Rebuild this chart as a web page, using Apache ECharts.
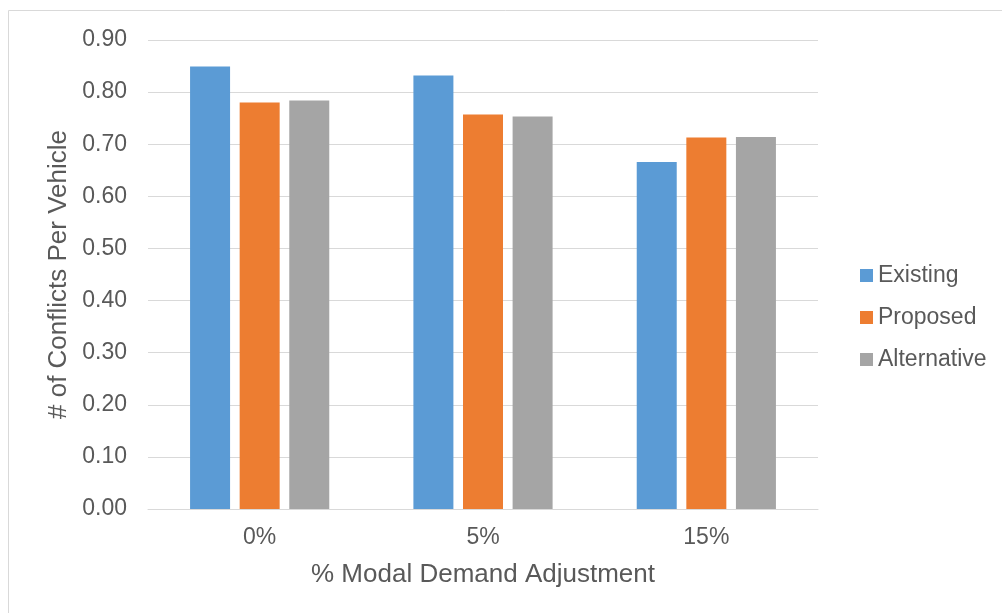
<!DOCTYPE html>
<html>
<head>
<meta charset="utf-8">
<script src="https://cdn.jsdelivr.net/npm/echarts@6/dist/echarts.min.js"></script>
<style>
    html, body { margin: 0; padding: 0; background: #fff; }
    #chart { width: 1002px; height: 613px; }
</style>
</head>
<body>
<div id="chart"></div>
<script>
var categories = ['0%', '5%', '15%'];
var existing = [0.849, 0.832, 0.666];
var proposed = [0.780, 0.757, 0.713];
var alternative = [0.784, 0.753, 0.714];

var textColor = '#595959';
var font = 'Liberation Sans, Arial, sans-serif';

var chart = echarts.init(document.getElementById('chart'));

chart.setOption({
    animation: false,
    textStyle: {fontFamily: font},
    graphic: [{
        type: 'rect',
        shape: {x: 8.5, y: 10.5, width: 1010, height: 620},
        style: {fill: 'none', stroke: '#d9d9d9', lineWidth: 1}
    }],
    grid: {left: 148, right: 184, top: 40, bottom: 104},
    legend: {
        orient: 'vertical',
        left: 855,
        top: 259,
        itemWidth: 13,
        itemHeight: 13,
        itemGap: 19,
        icon: 'rect',
        textStyle: {color: textColor, fontSize: 23, fontFamily: font},
        data: ['Existing', 'Proposed', 'Alternative']
    },
    xAxis: {
        type: 'category',
        data: categories,
        name: '% Modal Demand Adjustment',
        nameLocation: 'middle',
        nameGap: 53,
        nameTextStyle: {color: textColor, fontSize: 26, fontFamily: font},
        axisLine: {lineStyle: {color: '#d9d9d9', width: 1}},
        axisTick: {show: false},
        axisLabel: {color: textColor, fontSize: 23, margin: 17, fontFamily: font}
    },
    yAxis: {
        type: 'value',
        min: 0,
        max: 0.9,
        interval: 0.1,
        name: '# of Conflicts Per Vehicle',
        nameLocation: 'middle',
        nameGap: 69,
        nameTextStyle: {color: textColor, fontSize: 26, fontFamily: font},
        axisLine: {show: false},
        axisTick: {show: false},
        splitLine: {lineStyle: {color: '#d9d9d9', width: 1}},
        axisLabel: {
            color: textColor, fontSize: 23, margin: 21, fontFamily: font,
            formatter: function (v) { return v.toFixed(2); }
        }
    },
    series: [
        {name: 'Existing', type: 'bar', data: existing, barWidth: 40, barGap: '24%',
            itemStyle: {color: '#5b9bd5'}},
        {name: 'Proposed', type: 'bar', data: proposed, barWidth: 40, barGap: '24%',
            itemStyle: {color: '#ed7d31'}},
        {name: 'Alternative', type: 'bar', data: alternative, barWidth: 40, barGap: '24%',
            itemStyle: {color: '#a5a5a5'}}
    ]
});
</script>
</body>
</html>
